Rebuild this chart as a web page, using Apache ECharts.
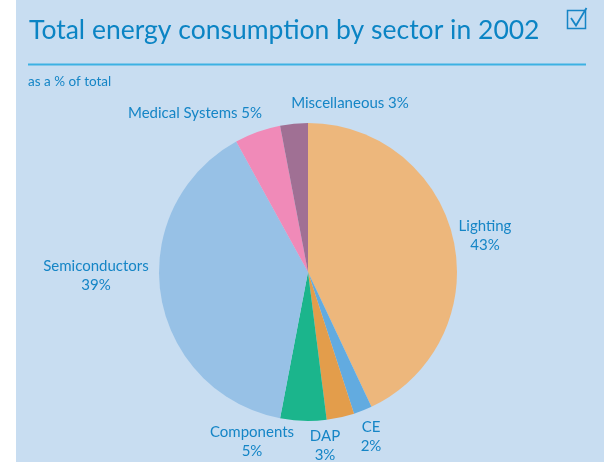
<!DOCTYPE html>
<html>
<head>
<meta charset="utf-8">
<style>
  html, body { margin: 0; padding: 0; background: #ffffff; }
  #chart { width: 604px; height: 462px; }
</style>
<script src="https://cdn.jsdelivr.net/npm/echarts@6/dist/echarts.min.js"></script>
</head>
<body>
<div id="chart"></div>
<script>
// Sector shares of total energy consumption, 2002 (percent)
const sectors = ['Lighting', 'CE', 'DAP', 'Components', 'Semiconductors', 'Medical Systems', 'Miscellaneous'];
const shares = [43, 2, 3, 5, 39, 5, 3];
const sliceColors = ['#edb77c', '#62abe0', '#e39d4b', '#1bb58c', '#97c1e6', '#f08ab8', '#a07094'];

// Sectors whose label sits on one line ("name value%"), others are stacked
const singleLine = ['Medical Systems', 'Miscellaneous'];

// Label anchor points (centre of each label block)
const labelAnchor = {
  'Lighting': [485, 236],
  'CE': [371, 437],
  'DAP': [325, 446],
  'Components': [252, 442],
  'Semiconductors': [96, 276],
  'Medical Systems': [195, 113],
  'Miscellaneous': [350, 103]
};

const textBlue = '#1585c6';
const font = 'Lato, "Open Sans", sans-serif';

const chart = echarts.init(document.getElementById('chart'), null, { renderer: 'canvas' });

chart.setOption({
  animation: false,
  backgroundColor: '#ffffff',
  graphic: [
    { type: 'rect', z: -10, shape: { x: 16, y: 0, width: 588, height: 462 }, style: { fill: '#c8ddf1' } },
    { type: 'line', shape: { x1: 28, y1: 64.5, x2: 586, y2: 64.5 }, style: { stroke: '#3cb1e3', lineWidth: 2 } },
    { type: 'text', left: 29, top: 17, style: { text: 'Total energy consumption by sector in 2002', font: '400 26.5px ' + font, fill: '#0b84c4' } },
    { type: 'text', left: 28, top: 75, style: { text: 'as a % of total', font: '400 13.5px ' + font, fill: textBlue } },
    // check box icon
    { type: 'rect', shape: { x: 567.5, y: 10.5, width: 18, height: 18 }, style: { fill: 'none', stroke: '#1585c6', lineWidth: 1.5 } },
    { type: 'polyline', shape: { points: [[571, 18], [576, 25.5], [586.5, 8]] }, style: { fill: 'none', stroke: '#1585c6', lineWidth: 1.8 } }
  ],
  series: [{
    type: 'pie',
    center: [308, 272],
    radius: [0, 149],
    startAngle: 90,
    clockwise: true,
    silent: true,
    itemStyle: { borderWidth: 0 },
    labelLine: { show: false },
    label: {
      show: true,
      position: 'outside',
      color: textBlue,
      fontFamily: font,
      fontSize: 15,
      lineHeight: 19,
      align: 'center',
      formatter: p => singleLine.includes(p.name) ? p.name + ' ' + p.value + '%' : p.name + '\n' + p.value + '%'
    },
    labelLayout: p => {
      const pt = labelAnchor[sectors[p.dataIndex]];
      return { x: pt[0], y: pt[1], align: 'center', verticalAlign: 'middle' };
    },
    data: sectors.map((s, i) => ({ name: s, value: shares[i], itemStyle: { color: sliceColors[i] } }))
  }]
});
</script>
</body>
</html>
